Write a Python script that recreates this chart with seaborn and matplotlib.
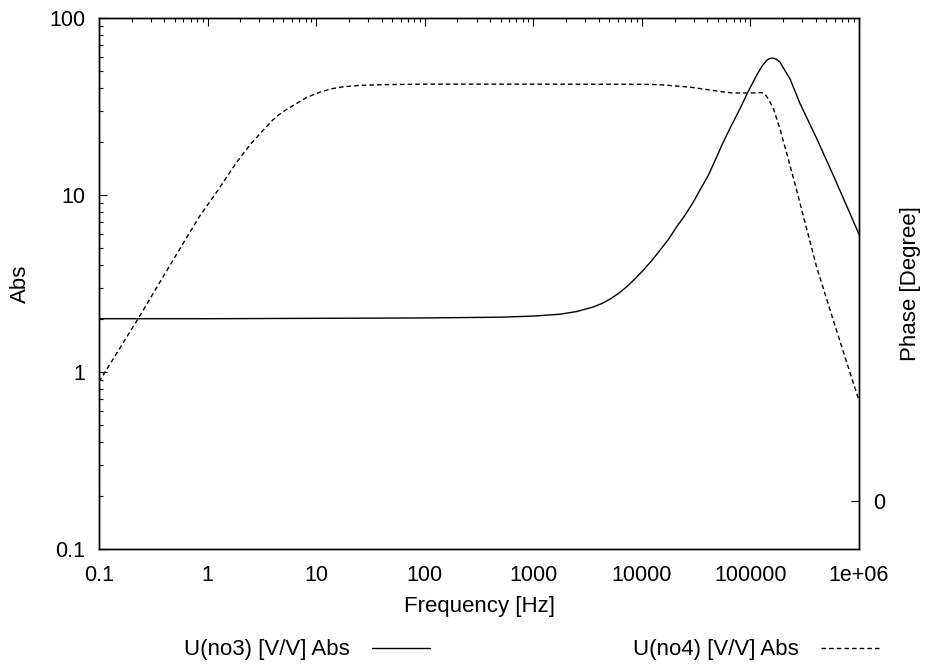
import matplotlib
matplotlib.use('Agg')
import matplotlib.pyplot as plt
from matplotlib.ticker import LogLocator, NullFormatter
import seaborn as sns

# ---- data ----
freq_no3 = [0.1, 1, 10, 100, 500, 1000, 1760, 2500, 3570, 4300, 5090, 6100,
            7250, 8600, 10300, 12300, 14700, 17500, 20900, 25000, 29800, 35000,
            40900, 48000, 56200, 67000, 80100, 95000, 114000, 128000, 141000,
            150000, 160000, 172000, 187000, 200000, 231000, 286000, 407000,
            580000, 759000, 1e6]
abs_no3 = [2.00, 2.00, 2.01, 2.02, 2.04, 2.07, 2.12, 2.195, 2.33, 2.44, 2.58, 2.78,
           3.03, 3.35, 3.76, 4.25, 4.88, 5.60, 6.60, 7.70, 9.13, 10.9,
           12.9, 16.0, 19.9, 24.8, 30.7, 38.3, 47.4, 53.5, 57.6,
           59.0, 59.4, 58.6, 56.4, 52.5, 45.4, 32.9, 20.9,
           12.9, 8.86, 6.0]

freq_no4 = [0.1, 0.229, 0.441, 0.834, 1.2, 1.81, 2.49, 3.0, 3.95, 4.5, 5.24,
            6.95, 8.0, 9.9, 11.5, 14.1, 18, 24.8, 40, 100, 1000, 10000, 14700,
            27700, 40000, 55000, 69500, 99100, 127000, 137000, 146000, 163000,
            187000, 223000, 267000, 286000, 407000, 580000, 759000, 1e6]
abs_no4 = [0.88, 2.0, 3.92, 7.5, 10.3, 15.0, 19.4, 22.0, 26.4, 28.3, 30.2,
           33.5, 35.3, 37.4, 38.5, 39.9, 40.9, 41.6, 42.0, 42.3, 42.3, 42.2, 42.0,
           40.7, 39.4, 38.3, 37.7, 37.7, 37.9, 36.9, 35.0, 30.7,
           23.7, 16.0, 10.6, 9.0, 3.92, 1.96, 1.167, 0.69]

series_labels = ["U(no3) [V/V] Abs", "U(no4) [V/V] Abs"]
x_ticks = [0.1, 1, 10, 100, 1000, 10000, 100000, 1e6]
x_tick_labels = ["0.1", "1", "10", "100", "1000", "10000", "100000", "1e+06"]
y_ticks = [0.1, 1, 10, 100]
y_tick_labels = ["0.1", "1", "10", "100"]
phase_ticks = [0]
phase_tick_labels = ["0"]
x_label = "Frequency [Hz]"
y_label = "Abs"
y2_label = "Phase [Degree]"

# ---- style ----
sns.set_style('white')
plt.rcParams['font.family'] = ['Liberation Sans', 'DejaVu Sans']
plt.rcParams.update({
    'axes.edgecolor': 'black', 'text.color': 'black',
    'axes.labelcolor': 'black', 'xtick.color': 'black', 'ytick.color': 'black',
})

W, H = 925, 669
fig = plt.figure(figsize=(W / 100, H / 100), dpi=100)
ax = fig.add_axes([99 / W, 1 - 549 / H, 760 / W, 531 / H])

sns.lineplot(x=freq_no3, y=abs_no3, ax=ax, color='black', lw=1.0,
             label=series_labels[0], errorbar=None)
sns.lineplot(x=freq_no4, y=abs_no4, ax=ax, color='black', lw=1.0,
             linestyle=(0, (3.3, 2.2)), label=series_labels[1], errorbar=None)

ax.set_xscale('log')
ax.set_yscale('log')
ax.set_xlim(0.1, 1e6)
ax.set_ylim(0.1, 100)
ax.set_xticks(x_ticks, x_tick_labels)
ax.set_yticks(y_ticks, y_tick_labels)
ax.xaxis.set_minor_locator(LogLocator(base=10, subs=range(2, 10), numticks=20))
ax.yaxis.set_minor_locator(LogLocator(base=10, subs=range(2, 10), numticks=20))
ax.xaxis.set_minor_formatter(NullFormatter())
ax.yaxis.set_minor_formatter(NullFormatter())

ax.tick_params(which='both', direction='in', top=True, right=False,
               width=0.8, labelsize=15.5)
ax.tick_params(which='major', length=5.8)
ax.tick_params(which='minor', length=3.2)
ax.tick_params(axis='y', pad=10)
ax.tick_params(axis='x', pad=11.5)
for s in ax.spines.values():
    s.set_linewidth(1.0)
    s.set_color('black')

ax.set_xlabel(x_label, fontsize=16)
ax.set_ylabel(y_label, fontsize=16)
ax.xaxis.set_label_coords(0.5, -0.0893)
ax.yaxis.set_label_coords(-0.0893, 0.5)

# right (phase) axis
ax2 = ax.twinx()
ax2.set_ylim(-0.904, 9.096)
ax2.set_yticks(phase_ticks, phase_tick_labels)
ax2.tick_params(axis='y', direction='in', length=5.8, width=0.8, pad=10,
                labelsize=15.5)
ax2.set_ylabel(y2_label, fontsize=16)
ax2.yaxis.set_label_coords(1.0533, 0.5)
for s in ax2.spines.values():
    s.set_linewidth(1.0)
    s.set_color('black')

# legend below
handles, labels = ax.get_legend_handles_labels()
ax.get_legend().remove()
fig.legend(handles, labels, ncol=2, markerfirst=False, frameon=False,
           loc='center', bbox_to_anchor=(531.5 / W, 1 - 650 / H),
           fontsize=16, handlelength=2.6, handletextpad=1.0,
           columnspacing=9.15, borderpad=0, borderaxespad=0)

fig.savefig('out.png', dpi=100)
